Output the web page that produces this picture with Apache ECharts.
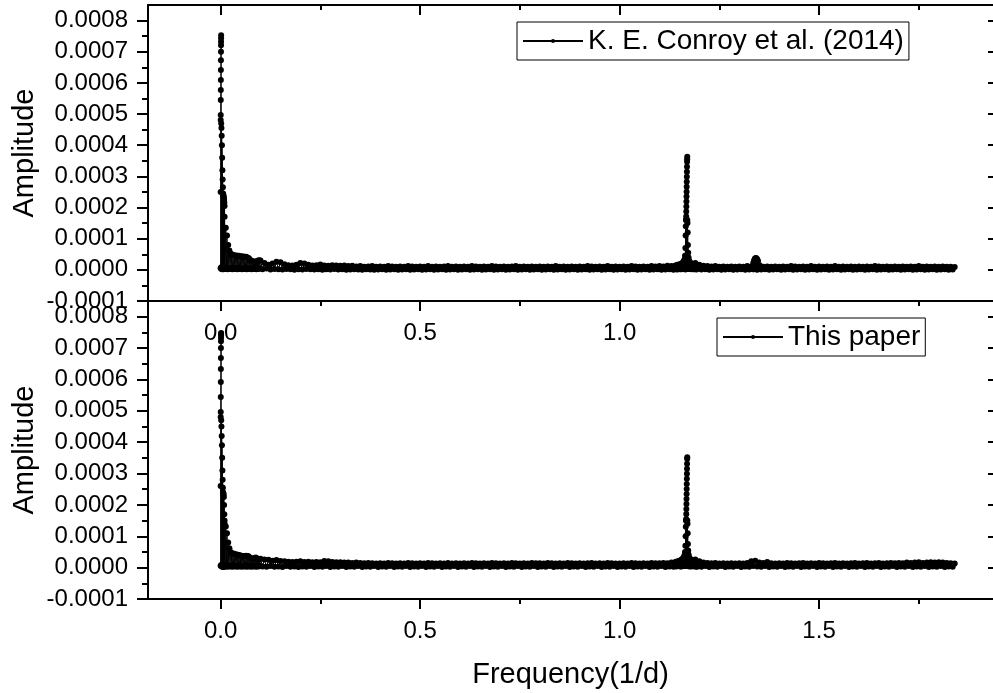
<!DOCTYPE html>
<html>
<head>
<meta charset="utf-8">
<script src="https://cdn.jsdelivr.net/npm/echarts@6/dist/echarts.min.js"></script>
<style>
html, body { margin: 0; padding: 0; background: #fff; }
#chart { width: 993px; height: 693px; }
</style>
</head>
<body>
<div id="chart"></div>
<script>
// amplitudes below are in units of 1e-6
var AMP_UNIT = 1e-6;

var xTicks = [0, 0.5, 1.0, 1.5];
var xMinorTicks = [0.25, 0.75, 1.25, 1.75];
var yTicks = [-0.0001, 0, 0.0001, 0.0002, 0.0003, 0.0004, 0.0005, 0.0006, 0.0007, 0.0008];
var yMinorTicks = [-0.00005, 0.00005, 0.00015, 0.00025, 0.00035, 0.00045, 0.00055, 0.00065, 0.00075];

// frequency grids (1/d)
var spikeFreq = [0, 0.0001, 0.0002, 0.0003, 0.0004, 0.0005, 0.0006, 0.0007, 0.0008, 0.0009, 0.0010, 0.0011, 0.0012, 0.0013];
var nearStart = 0.0015, nearStep = 0.0003;   // 29 points
var decayStart = 0.0100, decayStep = 0.0015; // 60 points
var floorStart = 0.100, floorStep = 0.005;   // 349 points, to 1.84
var peakFreq = [1.140, 1.142, 1.145, 1.147, 1.150, 1.152, 1.155, 1.157, 1.159, 1.160, 1.161, 1.162, 1.163, 1.1635,
  1.164, 1.1645, 1.165, 1.1652, 1.1655, 1.1658, 1.166, 1.1662, 1.1665, 1.1667, 1.1669,
  1.1670, 1.1672, 1.1674, 1.1676, 1.1678, 1.1680, 1.1682, 1.1684, 1.1686, 1.1688, 1.1690, 1.1692, 1.1694, 1.1696,
  1.1698, 1.1700, 1.1702, 1.1705, 1.1708, 1.1710, 1.1713, 1.1716, 1.172, 1.1725, 1.173, 1.1735, 1.174, 1.175,
  1.176, 1.177, 1.178, 1.180, 1.182, 1.184, 1.186, 1.188, 1.190, 1.193];
var bumpFreq = [1.333, 1.335, 1.336, 1.337, 1.338, 1.339, 1.340, 1.341, 1.342, 1.343, 1.344, 1.345, 1.346, 1.347, 1.349, 1.351];

// ---- K. E. Conroy et al. (2014) ----
var topSpikeAmp = [5, 250, 481, 497, 545, 577, 609, 641, 673, 700, 721, 732, 743, 753];
var topNearAmp = [470, 8, 455, 3, 430, 6, 400, 2, 360, 7, 320, 4, 290, 5, 265, 3, 245, 6, 240, 2,
  236, 5, 232, 3, 225, 6, 215, 4, 205];
var topDecayAmp = [170, 3, 135, 5, 110, 2, 80, 4, 62, 3, 52, 6, 50, 2, 48, 5, 47, 3, 45, 6,
  46, 2, 44, 4, 45, 3, 43, 5, 44, 2, 42, 4, 43, 3, 41, 6, 42, 2, 40, 4,
  38, 3, 34, 5, 30, 2, 28, 4, 27, 3, 26, 5, 25, 2, 28, 4, 30, 3, 31, 5];
var topFloorAmp = [
  30, 2, 22, 4, 16, 1, 20, 3, 26, 2, 24, 1, 18, 3, 15, 2, 14, 0, 16, 2,
  22, 1, 20, 3, 16, 2, 14, 1, 15, 2, 17, 0, 14, 2, 13, 1, 15, 3, 14, 1,
  13, 2, 14, 0, 12, 1, 13, 2, 11, 1, 12, 0, 10, 2, 11, 1, 12, 0, 10, 1,
  11, 2, 10, 0, 12, 1, 11, 2, 10, 0, 11, 1, 10, 2, 12, 0, 11, 1, 10, 2,
  11, 0, 10, 1, 12, 2, 10, 0, 11, 1, 10, 2, 11, 0, 12, 1, 10, 2, 11, 0,
  10, 1, 11, 2, 10, 0, 12, 1, 11, 2, 10, 0, 11, 1, 10, 2, 12, 0, 11, 1,
  10, 2, 11, 0, 10, 1, 11, 2, 12, 0, 10, 1, 11, 2, 10, 0, 11, 1, 10, 2,
  11, 0, 10, 1, 11, 2, 10, 0, 12, 1, 10, 2, 11, 0, 10, 1, 11, 2, 10, 0,
  11, 1, 10, 2, 12, 0, 11, 1, 10, 2, 11, 0, 10, 1, 12, 2, 10, 0, 11, 1,
  10, 2, 11, 0, 10, 1, 12, 2, 11, 0, 10, 1, 11, 2, 10, 0, 12, 1, 11, 2,
  12, 0, 11, 1, 13, 2, 12, 0, 13, 1, 14, 2, 16, 1, 18, 3, 20, 2, 22, 4,
  16, 1, 13, 2, 12, 0, 11, 1, 12, 2, 10, 0, 11, 1, 10, 2, 11, 0, 10, 1,
  11, 2, 10, 0, 12, 1, 11, 2, 10, 0, 11, 1, 10, 2, 11, 0, 10, 1, 11, 2,
  10, 0, 11, 1, 10, 2, 12, 0, 11, 1, 10, 2, 11, 0, 10, 1, 12, 2, 10, 0,
  11, 1, 10, 2, 11, 0, 10, 1, 12, 2, 10, 0, 11, 1, 10, 2, 11, 0, 10, 1,
  11, 2, 10, 0, 11, 1, 10, 2, 12, 0, 11, 1, 10, 2, 11, 0, 10, 1, 11, 2,
  10, 0, 11, 1, 10, 2, 11, 0, 10, 1, 12, 2, 10, 0, 11, 1, 10, 2, 11, 0,
  10, 1, 11, 2, 10, 0, 10, 1, 9];
var topPeakAmp = [14, 2, 16, 3, 18, 2, 20, 4, 24, 3, 28, 5, 34, 4, 45, 6, 70, 5, 110, 8, 140, 10, 160, 12, 160,
  171, 187, 203, 219, 235, 251, 267, 283, 299, 315, 331, 347, 355, 363,
  160, 8, 150, 10, 120, 6, 80, 5, 55, 4, 40, 3, 30, 5, 25, 3, 22, 2, 18, 3, 15, 2, 14, 1];
var topBumpAmp = [8, 22, 2, 30, 3, 36, 4, 38, 3, 37, 2, 34, 4, 28, 3, 15];

// ---- This paper ----
var botSpikeAmp = [6, 260, 480, 496, 544, 592, 633, 668, 700, 722, 732, 740, 745, 748];
var botNearAmp = [470, 6, 450, 9, 420, 4, 390, 7, 350, 3, 310, 8, 280, 4, 255, 6, 240, 3, 236, 7,
  232, 4, 225, 6, 200, 3, 170, 7, 150];
var botDecayAmp = [140, 4, 131, 6, 110, 3, 80, 7, 62, 4, 50, 6, 46, 3, 45, 7, 44, 4, 42, 6,
  42, 3, 41, 7, 40, 4, 39, 6, 38, 3, 37, 7, 36, 4, 37, 6, 38, 3, 37, 7,
  36, 4, 32, 6, 30, 3, 29, 7, 28, 4, 30, 6, 32, 3, 29, 7, 28, 4, 27, 6];
var botFloorAmp = [
  28, 4, 26, 3, 25, 5, 22, 3, 24, 4, 21, 2, 20, 5, 19, 3, 18, 4, 19, 2,
  20, 4, 18, 3, 19, 5, 17, 2, 18, 4, 17, 3, 21, 5, 20, 2, 18, 4, 17, 3,
  17, 5, 16, 2, 16, 4, 15, 3, 16, 5, 15, 2, 14, 4, 15, 3, 14, 5, 13, 2,
  14, 4, 13, 3, 15, 5, 14, 2, 13, 4, 14, 3, 13, 5, 15, 2, 14, 4, 13, 3,
  14, 5, 13, 2, 15, 4, 14, 3, 13, 5, 14, 2, 13, 4, 15, 3, 13, 5, 14, 2,
  13, 4, 14, 3, 13, 5, 15, 2, 14, 4, 13, 3, 14, 5, 13, 2, 15, 4, 14, 3,
  13, 5, 14, 2, 13, 4, 15, 3, 14, 5, 13, 2, 14, 4, 13, 3, 15, 5, 14, 2,
  14, 4, 13, 3, 15, 5, 14, 2, 13, 4, 14, 3, 13, 5, 15, 2, 14, 4, 13, 3,
  14, 5, 13, 2, 14, 4, 15, 3, 13, 5, 14, 2, 13, 4, 15, 3, 14, 5, 13, 2,
  13, 4, 14, 3, 13, 5, 15, 2, 14, 4, 13, 3, 14, 5, 13, 2, 15, 4, 14, 3,
  14, 5, 15, 2, 14, 4, 16, 3, 17, 5, 18, 4, 20, 5, 22, 4, 24, 5, 26, 4,
  20, 3, 16, 5, 15, 2, 14, 4, 15, 3, 13, 5, 14, 2, 13, 4, 14, 3, 13, 5,
  14, 2, 13, 4, 15, 3, 20, 5, 22, 4, 16, 3, 15, 5, 18, 2, 14, 4, 13, 3,
  14, 5, 13, 2, 15, 4, 14, 3, 13, 5, 14, 2, 15, 4, 13, 3, 14, 5, 13, 2,
  15, 4, 14, 3, 13, 5, 14, 2, 15, 4, 13, 3, 14, 5, 13, 2, 14, 4, 15, 3,
  13, 5, 14, 2, 15, 4, 13, 3, 14, 5, 15, 2, 13, 4, 14, 3, 15, 5, 14, 2,
  15, 4, 14, 3, 16, 5, 15, 2, 16, 4, 17, 3, 15, 5, 16, 2, 17, 4, 16, 3,
  17, 5, 16, 2, 15, 4, 14, 3, 13];
var botPeakAmp = [18, 4, 20, 5, 22, 4, 26, 6, 30, 5, 34, 7, 40, 6, 50, 8, 70, 7, 100, 10, 130, 12, 150, 14, 150,
  155, 171, 187, 203, 219, 235, 251, 267, 283, 299, 315, 331, 347, 352,
  150, 10, 140, 12, 110, 8, 75, 7, 55, 6, 42, 5, 34, 7, 30, 5, 26, 4, 22, 5, 20, 4, 18, 3];

var FONT = 'Liberation Sans, Arial, Helvetica, sans-serif';
var xMin = -0.182, xMax = 1.936;
var yMin = -0.0001, yMax = 0.00085;

function pairs(freqs, amps) {
  return amps.map(function (a, i) { return [freqs[i], a * AMP_UNIT]; });
}
function gridPairs(start, step, amps) {
  return amps.map(function (a, i) {
    return [Math.round((start + i * step) * 100000) / 100000, a * AMP_UNIT];
  });
}
function merge() {
  var all = [];
  for (var i = 0; i < arguments.length; i++) all = all.concat(arguments[i]);
  return all.sort(function (a, b) { return a[0] - b[0]; });
}

var topData = merge(pairs(spikeFreq, topSpikeAmp), gridPairs(nearStart, nearStep, topNearAmp),
  gridPairs(decayStart, decayStep, topDecayAmp), gridPairs(floorStart, floorStep, topFloorAmp),
  pairs(peakFreq, topPeakAmp), pairs(bumpFreq, topBumpAmp));
var botData = merge(pairs(spikeFreq, botSpikeAmp), gridPairs(nearStart, nearStep, botNearAmp),
  gridPairs(decayStart, decayStep, botDecayAmp), gridPairs(floorStart, floorStep, botFloorAmp),
  pairs(peakFreq, botPeakAmp));

function xAx(grid, pos, ticks, len, inside, showLine, showLabels) {
  return {
    type: 'value', gridIndex: grid, position: pos, min: xMin, max: xMax,
    axisLine: { show: showLine, onZero: false, lineStyle: { color: '#000', width: 2 } },
    axisTick: { show: true, inside: inside, length: len, customValues: ticks, lineStyle: { color: '#000', width: 2 } },
    axisLabel: { show: showLabels, customValues: ticks, margin: 20, fontSize: 24, color: '#000', fontFamily: FONT,
      formatter: function (v) { return v.toFixed(1); } },
    splitLine: { show: false }
  };
}
function yAx(grid, pos, ticks, len, inside, showLine, showLabels) {
  return {
    type: 'value', gridIndex: grid, position: pos, min: yMin, max: yMax,
    axisLine: { show: showLine, onZero: false, lineStyle: { color: '#000', width: 2 } },
    axisTick: { show: true, inside: inside, length: len, customValues: ticks, lineStyle: { color: '#000', width: 2 } },
    axisLabel: { show: showLabels, customValues: ticks, margin: 20, fontSize: 24, color: '#000', fontFamily: FONT,
      formatter: function (v) { return v.toFixed(4); } },
    splitLine: { show: false }
  };
}

var xAxes = [
  xAx(0, 'bottom', xTicks, 10, false, true, true),
  xAx(0, 'top', xTicks, 10, true, true, false),
  xAx(1, 'bottom', xMinorTicks, 5, false, false, false),
  xAx(1, 'top', xMinorTicks, 5, true, false, false),
  xAx(2, 'bottom', xTicks, 10, false, true, true),
  xAx(2, 'top', xTicks, 10, true, true, false),
  xAx(3, 'bottom', xMinorTicks, 5, false, false, false),
  xAx(3, 'top', xMinorTicks, 5, true, false, false)
];
xAxes[4].name = 'Frequency(1/d)';
xAxes[4].nameLocation = 'middle';
xAxes[4].nameGap = 61;
xAxes[4].nameMoveOverlap = false;
xAxes[4].nameTextStyle = { fontSize: 29, color: '#000', fontFamily: FONT };

var yAxes = [
  yAx(0, 'left', yTicks, 11, false, true, true),
  yAx(0, 'right', yTicks, 5, true, false, false),
  yAx(1, 'left', yMinorTicks, 6, false, false, false),
  yAx(2, 'left', yTicks, 11, false, true, true),
  yAx(2, 'right', yTicks, 5, true, false, false),
  yAx(3, 'left', yMinorTicks, 6, false, false, false)
];
[0, 3].forEach(function (k) {
  yAxes[k].name = 'Amplitude';
  yAxes[k].nameLocation = 'middle';
  yAxes[k].nameGap = 109;
  yAxes[k].nameMoveOverlap = false;
  yAxes[k].nameTextStyle = { fontSize: 29, color: '#000', fontFamily: FONT };
});

function legendBox(name, left, top) {
  return {
    data: [name], left: left, top: top, orient: 'horizontal',
    itemWidth: 60, itemHeight: 5, itemGap: 0, padding: [5, 5, 5, 5],
    backgroundColor: '#fff', borderColor: '#000', borderWidth: 1, borderRadius: 0,
    selectedMode: false,
    textStyle: { fontSize: 28, lineHeight: 28, color: '#000', fontFamily: FONT }
  };
}

function lineSeries(name, xi, yi, data) {
  return {
    name: name, type: 'line', xAxisIndex: xi, yAxisIndex: yi, data: data,
    symbol: 'circle', symbolSize: 6, showSymbol: true,
    lineStyle: { color: '#000', width: 1 },
    itemStyle: { color: '#000' },
    emphasis: { disabled: true }
  };
}

var option = {
  animation: false,
  backgroundColor: '#fff',
  grid: [
    { left: 148, right: 0, top: 5, height: 296, containLabel: false, outerBoundsMode: 'none' },
    { left: 148, right: 0, top: 5, height: 296, containLabel: false, outerBoundsMode: 'none' },
    { left: 148, right: 0, top: 301, height: 298, containLabel: false, outerBoundsMode: 'none' },
    { left: 148, right: 0, top: 301, height: 298, containLabel: false, outerBoundsMode: 'none' }
  ],
  xAxis: xAxes,
  yAxis: yAxes,
  legend: [
    legendBox('K. E. Conroy et al. (2014)', 517, 22),
    legendBox('This paper', 717, 318)
  ],
  series: [
    lineSeries('K. E. Conroy et al. (2014)', 0, 0, topData),
    lineSeries('This paper', 4, 3, botData)
  ]
};

var myChart = echarts.init(document.getElementById('chart'));
myChart.setOption(option);
</script>
</body>
</html>
